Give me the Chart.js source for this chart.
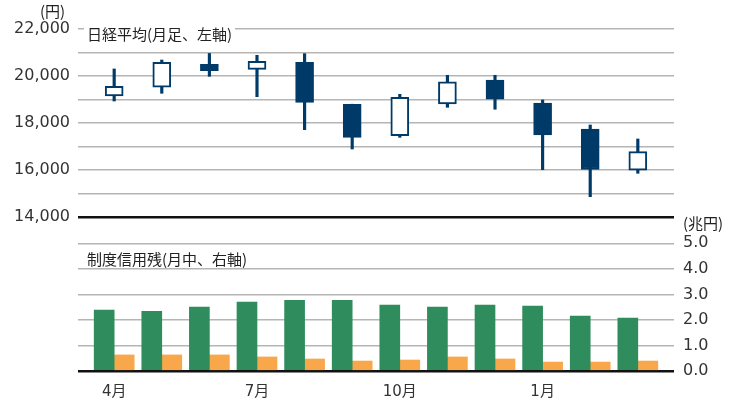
<!DOCTYPE html>
<html lang="ja">
<head>
<meta charset="utf-8">
<title>日経平均と制度信用残</title>
<script src="https://cdn.jsdelivr.net/npm/chart.js@4.4.1/dist/chart.umd.min.js"></script>
<style>
  html, body { margin: 0; padding: 0; background: #fff; }
  #wrap { position: relative; width: 730px; height: 403px; }
  .note { position: absolute; font-family: 'Noto Sans CJK JP', sans-serif; font-size: 15px;
          color: #222; line-height: 15px; white-space: nowrap; }
  .boxed { background: #fff; padding: 0 3px; }
</style>
</head>
<body>
<div id="wrap">
  <canvas id="chart" width="730" height="403"></canvas>
  <div class="note" style="left:40px; top:3px;">(円)</div>
  <div class="note boxed" style="left:84px; top:26px;">日経平均(月足、左軸)</div>
  <div class="note boxed" style="left:84px; top:251px;">制度信用残(月中、右軸)</div>
  <div class="note" style="left:683px; top:215px;">(兆円)</div>
</div>
<script>
/* ---- data ---- */
const months = ['4月', '5月', '6月', '7月', '8月', '9月', '10月', '11月', '12月', '1月', '2月', '3月'];

// 日経平均 月足 (円)
const nkOpen  = [19150, 19520, 20500, 20285, 20583, 18790, 17460, 18810, 19830, 18850, 17745, 15990];
const nkClose = [19560, 20583, 20230, 20625, 18880, 17390, 19094, 19757, 19010, 17490, 16020, 16780];
const nkHigh  = [20300, 20680, 20960, 20880, 20950, 18800, 19220, 20030, 20030, 18980, 17915, 17320];
const nkLow   = [18936, 19264, 19987, 19120, 17715, 16894, 17391, 18668, 18585, 16013, 14864, 15860];

// 制度信用残 (兆円)
const marginBuy  = [2.39, 2.34, 2.50, 2.70, 2.77, 2.77, 2.58, 2.50, 2.58, 2.54, 2.15, 2.07];
const marginSell = [0.63, 0.63, 0.63, 0.55, 0.47, 0.39, 0.43, 0.55, 0.47, 0.35, 0.35, 0.39];

// axis ticks
const leftTicks  = [14000, 15000, 16000, 17000, 18000, 19000, 20000, 21000, 22000];
const rightTicks = [0, 1, 2, 3, 4, 5];
const monthTicks = [0, 3, 6, 9];

/* ---- styles ---- */
const NAVY = '#003a68';
const GREEN = '#2e8c5d';
const ORANGE = '#f8a84a';
const GRID = '#b5b5b5';
const AXIS = '#111';
const numFont = { family: "'DejaVu Sans', 'Noto Sans CJK JP'", size: 16 };

const gridColor = base => ctx => (ctx.tick && ctx.tick.value === base ? AXIS : GRID);
const gridWidth = base => ctx => (ctx.tick && ctx.tick.value === base ? 2.5 : 1.5);
const fixTicks = list => scale => { scale.ticks = list.map(v => ({ value: v })); };

new Chart(document.getElementById('chart'), {
  type: 'bar',
  data: {
    datasets: [
      {
        // candle bodies
        data: months.map((m, i) => ({ x: i, y: [nkOpen[i], nkClose[i]] })),
        xAxisID: 'x', yAxisID: 'y',
        grouped: false,
        barThickness: 18,
        backgroundColor: months.map((m, i) => (nkClose[i] >= nkOpen[i] ? '#fff' : NAVY)),
        borderColor: NAVY,
        borderWidth: 2,
        borderSkipped: false
      },
      {
        // wicks
        data: months.map((m, i) => ({ x: i, y: [nkLow[i], nkHigh[i]] })),
        xAxisID: 'x', yAxisID: 'y',
        grouped: false,
        barThickness: 2.5,
        backgroundColor: NAVY
      },
      {
        label: '買い残',
        data: months.map((m, i) => ({ x: i, y: marginBuy[i] })),
        xAxisID: 'x2', yAxisID: 'y2',
        barThickness: 20,
        backgroundColor: GREEN
      },
      {
        label: '売り残',
        data: months.map((m, i) => ({ x: i, y: marginSell[i] })),
        xAxisID: 'x2', yAxisID: 'y2',
        barThickness: 20,
        backgroundColor: ORANGE
      }
    ]
  },
  options: {
    responsive: false,
    animation: false,
    layout: { padding: { top: 29, left: 0, right: 0, bottom: 0 } },
    plugins: { legend: { display: false }, tooltip: { enabled: false } },
    scales: {
      x: {
        type: 'linear', min: -0.76, max: 11.76, offset: false,
        afterBuildTicks: fixTicks(monthTicks),
        afterFit: s => { s.height = 32; },
        ticks: { callback: v => months[v], font: { family: "'DejaVu Sans', 'Noto Sans CJK JP'", size: 15 },
                 color: '#333', padding: 12, autoSkip: false, maxRotation: 0 },
        grid: { display: false, drawTicks: false, offset: false },
        border: { display: false }
      },
      x2: { type: 'linear', min: -0.76, max: 11.76, offset: false, display: false,
            grid: { offset: false } },
      y: {
        position: 'left', min: 7447, max: 22000,
        afterBuildTicks: fixTicks(leftTicks),
        afterFit: s => { s.width = 78; },
        ticks: { callback: v => (v % 2000 === 0 ? v.toLocaleString('en-US') : ''),
                 font: numFont, color: '#333', padding: 8, autoSkip: false },
        grid: { color: gridColor(14000), lineWidth: gridWidth(14000), drawTicks: false },
        border: { display: false }
      },
      y2: {
        position: 'right', min: 0, max: 13.39,
        afterBuildTicks: fixTicks(rightTicks),
        afterFit: s => { s.width = 56; },
        ticks: { callback: v => v.toFixed(1), font: numFont, color: '#333', padding: 9, autoSkip: false },
        grid: { color: gridColor(0), lineWidth: gridWidth(0), drawTicks: false },
        border: { display: false }
      }
    }
  }
});
</script>
</body>
</html>
